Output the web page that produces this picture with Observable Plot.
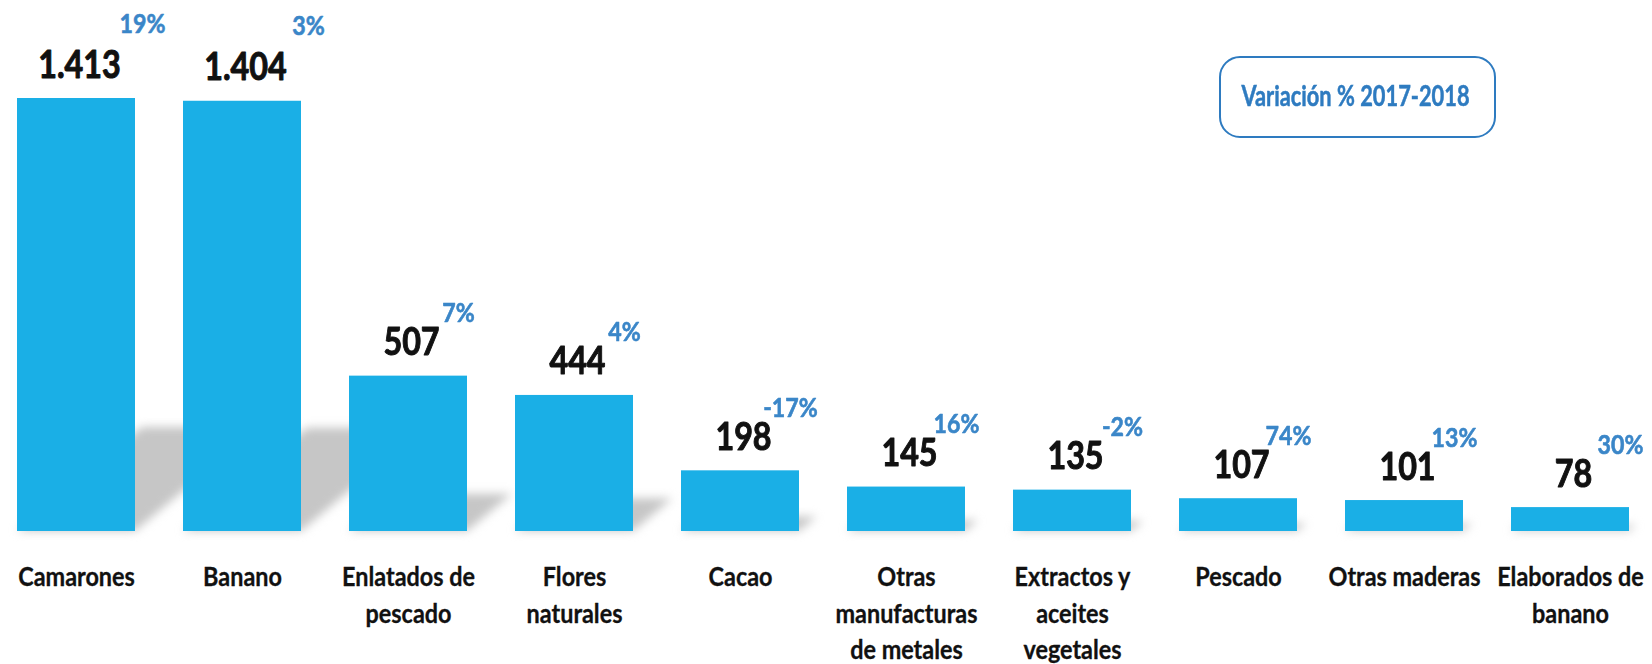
<!DOCTYPE html>
<html>
<head>
<meta charset="utf-8">
<script src="https://cdn.jsdelivr.net/npm/d3@7"></script>
<script src="https://cdn.jsdelivr.net/npm/@observablehq/plot@0.6"></script>
<style>
  body { margin: 0; background: #fff; }
  #chart { width: 1652px; height: 664px; }
</style>
</head>
<body>
<div id="chart"></div>
<script>
// ---- data ----
const categories = [
  "Camarones", "Banano", "Enlatados de\npescado", "Flores\nnaturales", "Cacao",
  "Otras\nmanufacturas\nde metales", "Extractos y\naceites\nvegetales", "Pescado",
  "Otras maderas", "Elaborados de\nbanano"
];
const values = [1413, 1404, 507, 444, 198, 145, 135, 107, 101, 78];
const valueLabels = ["1.413", "1.404", "507", "444", "198", "145", "135", "107", "101", "78"];
const variation = ["19%", "3%", "7%", "4%", "-17%", "16%", "-2%", "74%", "13%", "30%"];
const legendTitle = "Variación % 2017-2018";

const data = categories.map((c, i) => ({cat: c, value: values[i], label: valueLabels[i], pct: variation[i]}));

const FONT = "Lato,'Open Sans','DejaVu Sans',sans-serif";
const BAR = "#1aafe6";
const PCT = "#3a86c8";
const BOX = "#2e7bc0";

// condensed look: squeeze each text horizontally around its anchor
const squeeze = sx => (index, scales, vals, dims, ctx, next) => {
  const g = next(index, scales, vals, dims, ctx);
  g.querySelectorAll("text").forEach(t => {
    const tr = t.getAttribute("transform") || "";
    t.setAttribute("transform", `${tr} scale(${sx},1)`);
  });
  return g;
};

// shadow: the bar silhouette flattened and skewed to the upper right, blurred
function shadowRender(index, scales, vals, dims, ctx, next) {
  const g = next(index, scales, vals, dims, ctx);
  const yb = scales.y(0);
  const a = -Math.atan(1.2) * 180 / Math.PI;
  g.querySelectorAll("rect").forEach(r =>
    r.setAttribute("transform", `translate(0,${yb}) skewX(${a}) scale(1,0.24) translate(0,${-yb})`));
  g.style.filter = "blur(5px)";
  return g;
}

// legend box in the upper right
function legendBox(index, scales, vals, dims) {
  const w = 275, h = 80;
  const x0 = dims.width - 157 - w, y0 = 57;
  const g = d3.create("svg:g");
  g.append("rect").attr("x", x0).attr("y", y0).attr("width", w).attr("height", h)
    .attr("rx", 20).attr("fill", "white").attr("stroke", BOX).attr("stroke-width", 2);
  g.append("text").attr("transform", `translate(${x0 + w / 2 - 2},${y0 + 49}) scale(0.78,1)`)
    .attr("text-anchor", "middle")
    .attr("font-size", 28).attr("font-weight", "bold").attr("fill", BOX)
    .attr("stroke", BOX).attr("stroke-width", 0.5)
    .attr("font-family", FONT).text(legendTitle);
  return g.node();
}

const chart = Plot.plot({
  width: 1652,
  height: 664,
  marginLeft: 15,
  marginRight: 20,
  marginTop: 98,
  marginBottom: 133,
  style: {fontFamily: FONT, fontWeight: "bold", background: "white"},
  x: {domain: categories, paddingInner: 0.288, paddingOuter: 0, axis: null},
  y: {domain: [0, 1413], axis: null},
  marks: [
    Plot.barY(data, {x: "cat", y: "value", fill: "#c6c6c6", render: shadowRender}),
    Plot.barY(data, {x: "cat", y: "value", fill: BAR}),
    Plot.text(data, {x: "cat", y: 0, text: "cat", lineAnchor: "top", dy: 29, fontSize: 26, lineHeight: 1.4, fill: "#111", stroke: "#111", strokeWidth: 0.3, render: squeeze(0.9)}),
    Plot.text(data, {x: "cat", y: "value", text: "label", dx: 3, dy: -21, fontSize: 38, fill: "#111", stroke: "#111", strokeWidth: 1, lineAnchor: "bottom", render: squeeze(0.85)}),
    Plot.text(data.filter(d => d.label.length > 3), {x: "cat", y: "value", text: "pct", dx: 66, dy: -66, fontSize: 27, fill: PCT, stroke: PCT, strokeWidth: 0.6, lineAnchor: "bottom", render: squeeze(0.86)}),
    Plot.text(data.filter(d => d.label.length <= 3), {x: "cat", y: "value", text: "pct", dx: 50, dy: -54, fontSize: 27, fill: PCT, stroke: PCT, strokeWidth: 0.6, lineAnchor: "bottom", render: squeeze(0.86)}),
    legendBox
  ]
});
document.getElementById("chart").appendChild(chart);
</script>
</body>
</html>
